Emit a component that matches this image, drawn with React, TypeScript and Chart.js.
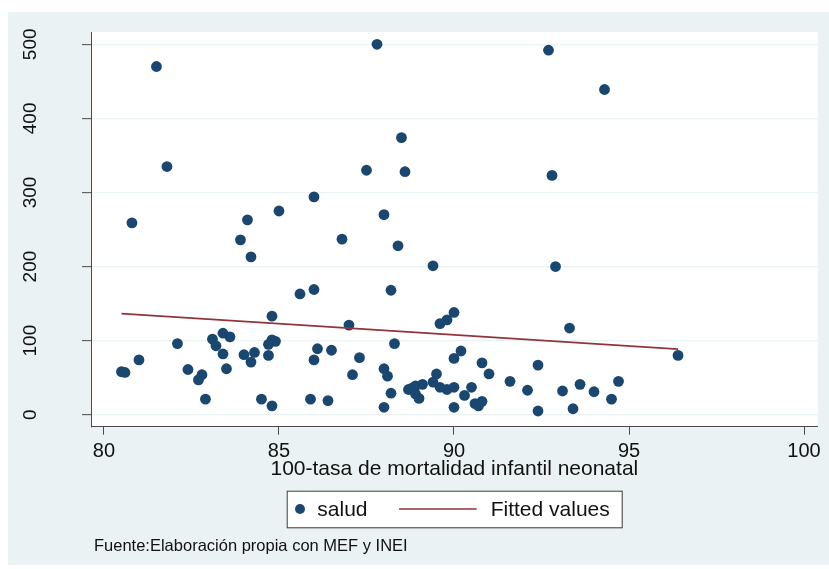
import { useEffect, useRef } from 'react';
import { Chart, registerables } from 'chart.js';

Chart.register(...registerables);

// salud vs. 100 - neonatal infant mortality rate
const saludX = [
  81.5, 87.8, 81.8, 88.5, 87.5, 88.6, 80.8, 86.0, 85.0, 84.1, 88.0, 83.9, 86.8, 84.2, 88.4,
  92.7, 94.3, 92.8, 89.4, 92.9, 85.6, 86.0, 88.2, 84.8, 87.0, 88.3, 82.1, 83.1, 83.4, 83.6,
  83.2, 84.8, 84.9, 84.7, 83.4, 84.0, 84.3, 84.2, 84.7, 86.1, 86.5, 86.0, 87.3, 81.0, 80.5,
  80.6, 82.4, 82.8, 82.7, 83.5, 87.1, 88.0, 88.1, 82.9, 84.5, 84.8, 85.9, 86.4, 88.2, 88.0,
  90.0, 89.8, 89.6, 93.3, 96.4, 90.2, 90.0, 90.8, 91.0, 89.5, 89.4, 92.4, 91.6, 93.6, 94.7,
  92.1, 93.1, 94.0, 94.5, 92.4, 93.4, 90.0, 90.5, 90.3, 90.6, 90.7, 90.8, 90.0, 89.8, 89.6,
  88.8, 88.9, 89.1, 88.9, 89.0, 88.7,
];
const saludY = [
  470, 500, 335, 374, 330, 328, 259, 294, 275, 263, 270, 236, 237, 213, 228,
  492, 439, 323, 201, 200, 163, 169, 168, 133, 121, 96, 96, 102, 110, 105,
  93, 101, 99, 95, 82, 81, 84, 71, 80, 89, 87, 74, 77, 74, 58,
  57, 61, 54, 47, 62, 54, 62, 52, 21, 21, 12, 21, 19, 29, 10,
  138, 128, 123, 117, 80, 86, 76, 70, 55, 55, 44, 67, 45, 41, 45,
  33, 32, 31, 21, 5, 8, 10, 37, 26, 15, 12, 18, 37, 34, 37,
  36, 39, 41, 28, 22, 34,
];

// Linear fit, endpoints at the smallest and largest x
const fitX = [80.5, 96.4];
const fitY = [136.5, 88.4];

const xTicks = [80, 85, 90, 95, 100];
const yTicks = [0, 100, 200, 300, 400, 500];
const seriesNames = ['salud', 'Fitted values'];
const xTitle = '100-tasa de mortalidad infantil neonatal';
const note = 'Fuente:Elaboración propia con MEF y INEI';

const FONT = "'Liberation Sans', Arial, sans-serif";
const BG = '#EAF2F3';
const NAVY = '#1A476F';
const MAROON = '#90353B';
const AXIS = '#4a4a4a';
const TEXT = '#111111';

const W = 821;
const H = 553;

const decor = {
  id: 'decor',
  beforeDraw(chart: any) {
    const { ctx, width, height, chartArea: a } = chart;
    ctx.save();
    ctx.fillStyle = BG;
    ctx.fillRect(0, 0, width, height);
    ctx.fillStyle = '#ffffff';
    ctx.fillRect(a.left, a.top, a.right - a.left, a.bottom - a.top);
    ctx.restore();
  },
  afterDraw(chart: any) {
    const { ctx } = chart;
    const ys = chart.scales.y;
    ctx.save();

    // rotated y tick labels
    ctx.font = `19px ${FONT}`;
    ctx.fillStyle = TEXT;
    ctx.textAlign = 'center';
    ctx.textBaseline = 'middle';
    yTicks.forEach((v) => {
      ctx.save();
      ctx.translate(23, ys.getPixelForValue(v));
      ctx.rotate(-Math.PI / 2);
      ctx.fillText(String(v), 0, 0);
      ctx.restore();
    });

    // legend box
    const bx = 278.7, by = 478.7, bw = 335, bh = 36.6;
    ctx.fillStyle = '#ffffff';
    ctx.fillRect(bx, by, bw, bh);
    ctx.strokeStyle = '#3a3a3a';
    ctx.lineWidth = 1;
    ctx.strokeRect(bx + 0.5, by + 0.5, bw, bh);
    const my = by + bh / 2;
    ctx.fillStyle = NAVY;
    ctx.beginPath();
    ctx.arc(292, my, 5, 0, Math.PI * 2);
    ctx.fill();
    ctx.strokeStyle = MAROON;
    ctx.lineWidth = 1.7;
    ctx.beginPath();
    ctx.moveTo(391, my);
    ctx.lineTo(468.7, my);
    ctx.stroke();
    ctx.font = `21px ${FONT}`;
    ctx.fillStyle = TEXT;
    ctx.textAlign = 'left';
    ctx.textBaseline = 'middle';
    ctx.fillText(seriesNames[0], 309.3, my + 1);
    ctx.fillText(seriesNames[1], 482.7, my + 1);

    // source note
    ctx.font = `16.5px ${FONT}`;
    ctx.textBaseline = 'alphabetic';
    ctx.fillText(note, 86, 539);
    ctx.restore();
  },
};

export default function App() {
  const ref = useRef<HTMLCanvasElement | null>(null);

  useEffect(() => {
    if (!ref.current) return;
    const scatter = saludX.map((x, i) => ({ x, y: saludY[i] }));
    const fit = fitX.map((x, i) => ({ x, y: fitY[i] }));
    const chart = new Chart(ref.current, {
      type: 'scatter',
      data: {
        datasets: [
          {
            label: seriesNames[0],
            data: scatter,
            pointRadius: 5.4,
            pointBorderWidth: 0,
            pointBackgroundColor: NAVY,
            pointBorderColor: NAVY,
            order: 2,
          },
          {
            type: 'line',
            label: seriesNames[1],
            data: fit,
            borderColor: MAROON,
            borderWidth: 1.7,
            pointRadius: 0,
            fill: false,
            order: 1,
          },
        ],
      },
      options: {
        responsive: false,
        animation: false,
        devicePixelRatio: 1,
        layout: { padding: { left: 0, top: 20, right: 11.3, bottom: 0 } },
        plugins: {
          legend: { display: false },
          tooltip: { enabled: false },
        },
        scales: {
          x: {
            type: 'linear',
            min: 79.63,
            max: 100.39,
            afterBuildTicks: (s: any) => {
              s.ticks = xTicks.map((v) => ({ value: v }));
            },
            afterFit: (s: any) => {
              s.height = 138.3;
            },
            ticks: {
              font: { family: FONT, size: 20 },
              color: TEXT,
              padding: 5,
              maxRotation: 0,
              autoSkip: false,
            },
            grid: {
              drawOnChartArea: false,
              drawTicks: true,
              tickLength: 8,
              tickColor: AXIS,
              tickWidth: 1,
            },
            border: { display: true, color: AXIS, width: 1 },
            title: {
              display: true,
              text: xTitle,
              font: { family: FONT, size: 21 },
              color: TEXT,
              padding: { top: 0, bottom: 83 },
            },
          },
          y: {
            type: 'linear',
            min: -16.2,
            max: 516.6,
            afterBuildTicks: (s: any) => {
              s.ticks = yTicks.map((v) => ({ value: v }));
            },
            afterFit: (s: any) => {
              s.width = 83;
            },
            ticks: { display: false },
            grid: {
              color: BG,
              lineWidth: 1.3,
              drawTicks: true,
              tickLength: 9,
              tickColor: AXIS,
              tickWidth: 1,
            },
            border: { display: true, color: AXIS, width: 1 },
          },
        },
      },
      plugins: [decor],
    });
    return () => chart.destroy();
  }, []);

  return (
    <div style={{ position: 'fixed', left: 8, top: 12, width: W, height: H }}>
      <canvas ref={ref} width={W} height={H} style={{ display: 'block', width: W, height: H }} />
    </div>
  );
}
